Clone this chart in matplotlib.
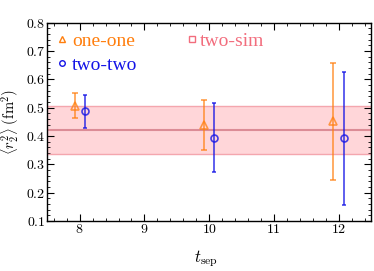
import matplotlib
matplotlib.use("Agg")
import matplotlib.pyplot as plt
from matplotlib.ticker import MultipleLocator, FormatStrFormatter

plt.rcParams['mathtext.fontset'] = 'cm'
plt.rcParams['font.family'] = ['Liberation Serif']

# data
tsep = [8, 10, 12]
one_one = [0.505, 0.44, 0.454]
one_one_lo = [0.464, 0.349, 0.244]
one_one_hi = [0.553, 0.527, 0.659]
two_two = [0.487, 0.394, 0.393]
two_two_lo = [0.429, 0.273, 0.157]
two_two_hi = [0.545, 0.516, 0.627]
sim_center = 0.422
sim_lo = 0.336
sim_hi = 0.505

orange = '#ff7f0e'
blue = '#1414e6'
pink = '#f26d7d'

fig = plt.figure(figsize=(3.74, 2.71), dpi=100)
ax = fig.add_axes([0.1265, 0.185, 0.8655, 0.731])

ax.axhspan(sim_lo, sim_hi, color='#ffd6d9', lw=0, zorder=1)
ax.axhline(sim_lo, color='#f4a6ae', lw=1, zorder=2)
ax.axhline(sim_hi, color='#f4a6ae', lw=1, zorder=2)
ax.axhline(sim_center, color='#dc8c96', lw=1.5, zorder=2)

x1 = [t - 0.08 for t in tsep]
x2 = [t + 0.08 for t in tsep]
e1 = [[m - l for m, l in zip(one_one, one_one_lo)], [h - m for m, h in zip(one_one, one_one_hi)]]
e2 = [[m - l for m, l in zip(two_two, two_two_lo)], [h - m for m, h in zip(two_two, two_two_hi)]]
ax.errorbar(x1, one_one, yerr=e1, fmt='^', ms=5.5, mfc='none', mec=orange, mew=1.2,
            ecolor=orange, elinewidth=1.2, capsize=2, capthick=1, alpha=0.75, zorder=3)
ax.errorbar(x2, two_two, yerr=e2, fmt='o', ms=5, mfc='none', mec=blue, mew=1.2,
            ecolor=blue, elinewidth=1.2, capsize=1.5, capthick=1, alpha=0.8, zorder=3)

# legend drawn as coloured labels
ax.plot([7.726], [0.742], '^', ms=5, mfc='none', mec=orange, mew=1)
ax.text(7.88, 0.735, 'one-one', color=orange, fontsize=14, va='center')
ax.plot([7.726], [0.657], 'o', ms=4, mfc='none', mec=blue, mew=1)
ax.text(7.88, 0.649, 'two-two', color=blue, fontsize=14, va='center')
ax.plot([9.74], [0.742], 's', ms=4.5, mfc='none', mec=pink, mew=1)
ax.text(9.85, 0.735, 'two-sim', color=pink, fontsize=14, va='center')

ax.set_xlim(7.5, 12.5)
ax.set_ylim(0.1, 0.8)
ax.xaxis.set_major_locator(MultipleLocator(1))
ax.xaxis.set_minor_locator(MultipleLocator(0.2))
ax.yaxis.set_major_locator(MultipleLocator(0.1))
ax.yaxis.set_minor_locator(MultipleLocator(0.02))
ax.xaxis.set_major_formatter(FormatStrFormatter(r'$%d$'))
ax.yaxis.set_major_formatter(FormatStrFormatter(r'$%.1f$'))
ax.tick_params(which='both', direction='in', top=True, right=True, labelsize=10)
ax.tick_params(which='major', length=5)
ax.tick_params(which='minor', length=2.5)
ax.tick_params(axis='y', pad=1.5)
ax.tick_params(axis='x', pad=1.5)
for s in ax.spines.values():
    s.set_linewidth(1)

ax.set_xlabel(r'$t_{\rm sep}$', fontsize=12)
ax.set_ylabel(r'$\langle r_2^2\rangle\;({\rm fm}^2)$', fontsize=10.5)
ax.xaxis.set_label_coords(0.49, -0.14)
ax.yaxis.set_label_coords(-0.08, 0.5)

fig.savefig('out.png', dpi=100)
